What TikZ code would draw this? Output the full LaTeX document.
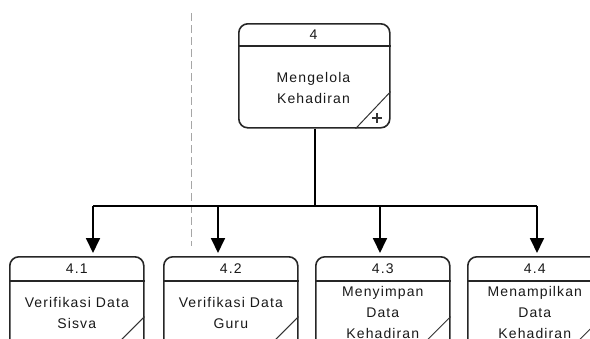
\documentclass[tikz,border=0pt]{standalone}
\usepackage{fontspec}
\setmainfont{Liberation Sans}[LetterSpace=8]
\usetikzlibrary{arrows.meta,calc}
\tikzset{
  proc/.style={draw=black!85, line width=1.6pt, rounded corners=9pt,
    minimum width=134pt, minimum height=96pt, anchor=north west, inner sep=0pt},
  sep/.style={draw=black!85, line width=1.2pt},
  corner/.style={draw=black!80, line width=1pt},
  txt/.style={font=\fontsize{14}{21}\selectfont, text=black!90, inner sep=0pt, align=center},
  flow/.style={draw=black, line width=1.8pt},
  arr/.style={flow, -{Triangle[length=15pt,width=14pt]}},
  guide/.style={draw=black!35, line width=0.9pt, dash pattern=on 8pt off 4pt}
}
\begin{document}
\begin{tikzpicture}[x=1pt,y=-1pt]
\useasboundingbox (0,0) rectangle (590,338);
\clip (0,0) rectangle (590,338);

% vertical guide line
\draw[guide] (191,13) -- (191,246);

% parent process
\node[proc, minimum width=151pt, minimum height=104pt] (p4) at (238,23) {};
\draw[sep] (p4.north west |- 0,46) -- (p4.north east |- 0,46);
\draw[corner] ($(p4.south east)+(0,-37)$) -- ($(p4.south east)+(-35,0)$);
\coordinate (plus) at (377,118);
\draw[corner, line width=1.3pt] ($(plus)+(-5,0)$) -- ($(plus)+(5,0)$)
                                ($(plus)+(0,-5)$) -- ($(plus)+(0,5)$);
\node[txt] (t4) at (313.5,34.5) {4};
\node[txt] (n4) at (313.5,87.5) {Mengelola\\Kehadiran};

% child processes
\foreach \nm/\xl/\num/\lbl in {
    p41/9/4.1/{Verifikasi Data\\Sisva},
    p42/163/4.2/{Verifikasi Data\\Guru},
    p43/315/4.3/{Menyimpan\\Data\\Kehadiran},
    p44/467/4.4/{Menampilkan\\Data\\Kehadiran}} {
  \node[proc] (\nm) at (\xl,256) {};
  \draw[sep] (\nm.north west |- 0,281) -- (\nm.north east |- 0,281);
  \draw[corner] ($(\nm.south east)+(0,-37)$) -- ($(\nm.south east)+(-37,0)$);
  \node[txt] (\nm-num) at ($(\nm.north)+(0,12.5)$) {\num};
  \node[txt] (\nm-lbl) at ($(\nm.north)+(0,56.5)$) {\lbl};
}

% decomposition connectors
\coordinate (bus) at (315,206);
\coordinate (j1) at (93,206);
\coordinate (j2) at (218,206);
\coordinate (j3) at (380,206);
\coordinate (j4) at (537,206);
\draw[flow] (p4.south -| bus) -- (bus);
\draw[flow] (j1) -- (j4);
\draw[arr] (j1) -- ($(j1 |- p41.north)+(0,-3)$);
\draw[arr] (j2) -- ($(j2 |- p42.north)+(0,-3)$);
\draw[arr] (j3) -- ($(j3 |- p43.north)+(0,-3)$);
\draw[arr] (j4) -- ($(j4 |- p44.north)+(0,-3)$);
\end{tikzpicture}
\end{document}
